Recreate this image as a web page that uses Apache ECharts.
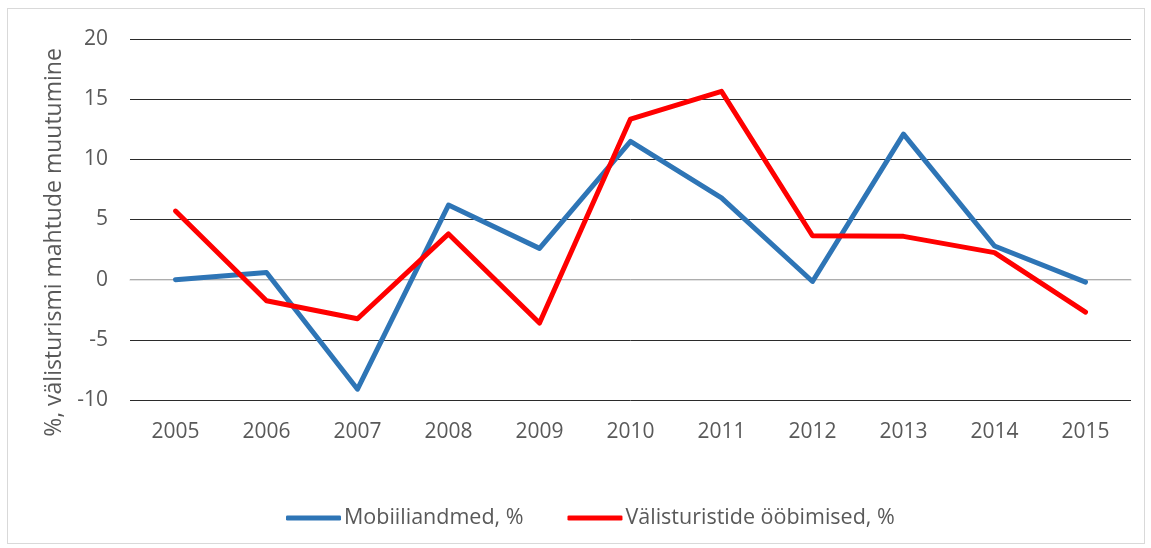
<!DOCTYPE html>
<html>
<head>
<meta charset="utf-8">
<script src="https://cdn.jsdelivr.net/npm/echarts@6/dist/echarts.min.js"></script>
<style>
html,body{margin:0;padding:0;background:#fff;}
#frame{position:absolute;left:7px;top:8px;width:1138px;height:536px;border:1px solid #d9d9d9;box-sizing:border-box;}
#chart{position:absolute;left:0;top:0;width:1151px;height:548px;}
</style>
</head>
<body>
<div id="frame"></div>
<div id="chart"></div>
<script>
const categories = ['2005','2006','2007','2008','2009','2010','2011','2012','2013','2014','2015'];
const mobiiliandmed = [0, 0.6, -9.1, 6.2, 2.6, 11.5, 6.8, -0.15, 12.1, 2.8, -0.2];
const oobimised = [5.7, -1.75, -3.25, 3.8, -3.6, 13.35, 15.65, 3.65, 3.6, 2.25, -2.7];
const seriesNames = ['Mobiiliandmed, %', 'Välisturistide ööbimised, %'];
const yAxisName = '%, välisturismi mahtude muutumine';

const chart = echarts.init(document.getElementById('chart'), null, {renderer:'canvas'});
const font = '"Open Sans", "Noto Sans", sans-serif';
chart.setOption({
  backgroundColor: 'transparent',
  animation: false,
  textStyle: {fontFamily: font},
  grid: {left: 130, right: 20, top: 39, bottom: 148, containLabel: false},
  legend: {
    bottom: 14, left: 281, itemWidth: 55, itemHeight: 5, itemGap: 44,
    icon: 'roundRect',
    textStyle: {fontSize: 21.5, color: '#595959', fontFamily: font, padding:[0,0,0,-2]},
    data: seriesNames
  },
  xAxis: {
    type: 'category', data: categories, boundaryGap: true,
    axisLine: {show: true, lineStyle: {color: '#d9d9d9', width: 1.5}},
    axisTick: {show: false},
    axisLabel: {fontSize: 21, color: '#595959', margin: 22, fontFamily: font}
  },
  yAxis: {
    type: 'value', min: -10, max: 20, interval: 5,
    name: yAxisName, nameLocation: 'middle', nameGap: 63, nameRotate: 90,
    nameTextStyle: {fontSize: 23, color: '#595959', fontFamily: font, padding: [0, 46, 0, 0]},
    axisLine: {show: false}, axisTick: {show: false},
    axisLabel: {fontSize: 21, color: '#595959', margin: 22, fontFamily: font},
    splitLine: {lineStyle: {color: '#2b2b2b', width: 1}}
  },
  series: [
    {name: seriesNames[0], type: 'line', data: mobiiliandmed, symbol: 'none',
     lineStyle: {color: '#2E75B6', width: 5, cap: 'round', join: 'round'}, itemStyle: {color: '#2E75B6'}, z: 3},
    {name: seriesNames[1], type: 'line', data: oobimised, symbol: 'none',
     lineStyle: {color: '#FF0000', width: 5, cap: 'round', join: 'round'}, itemStyle: {color: '#FF0000'}, z: 4}
  ]
});
</script>
</body>
</html>
